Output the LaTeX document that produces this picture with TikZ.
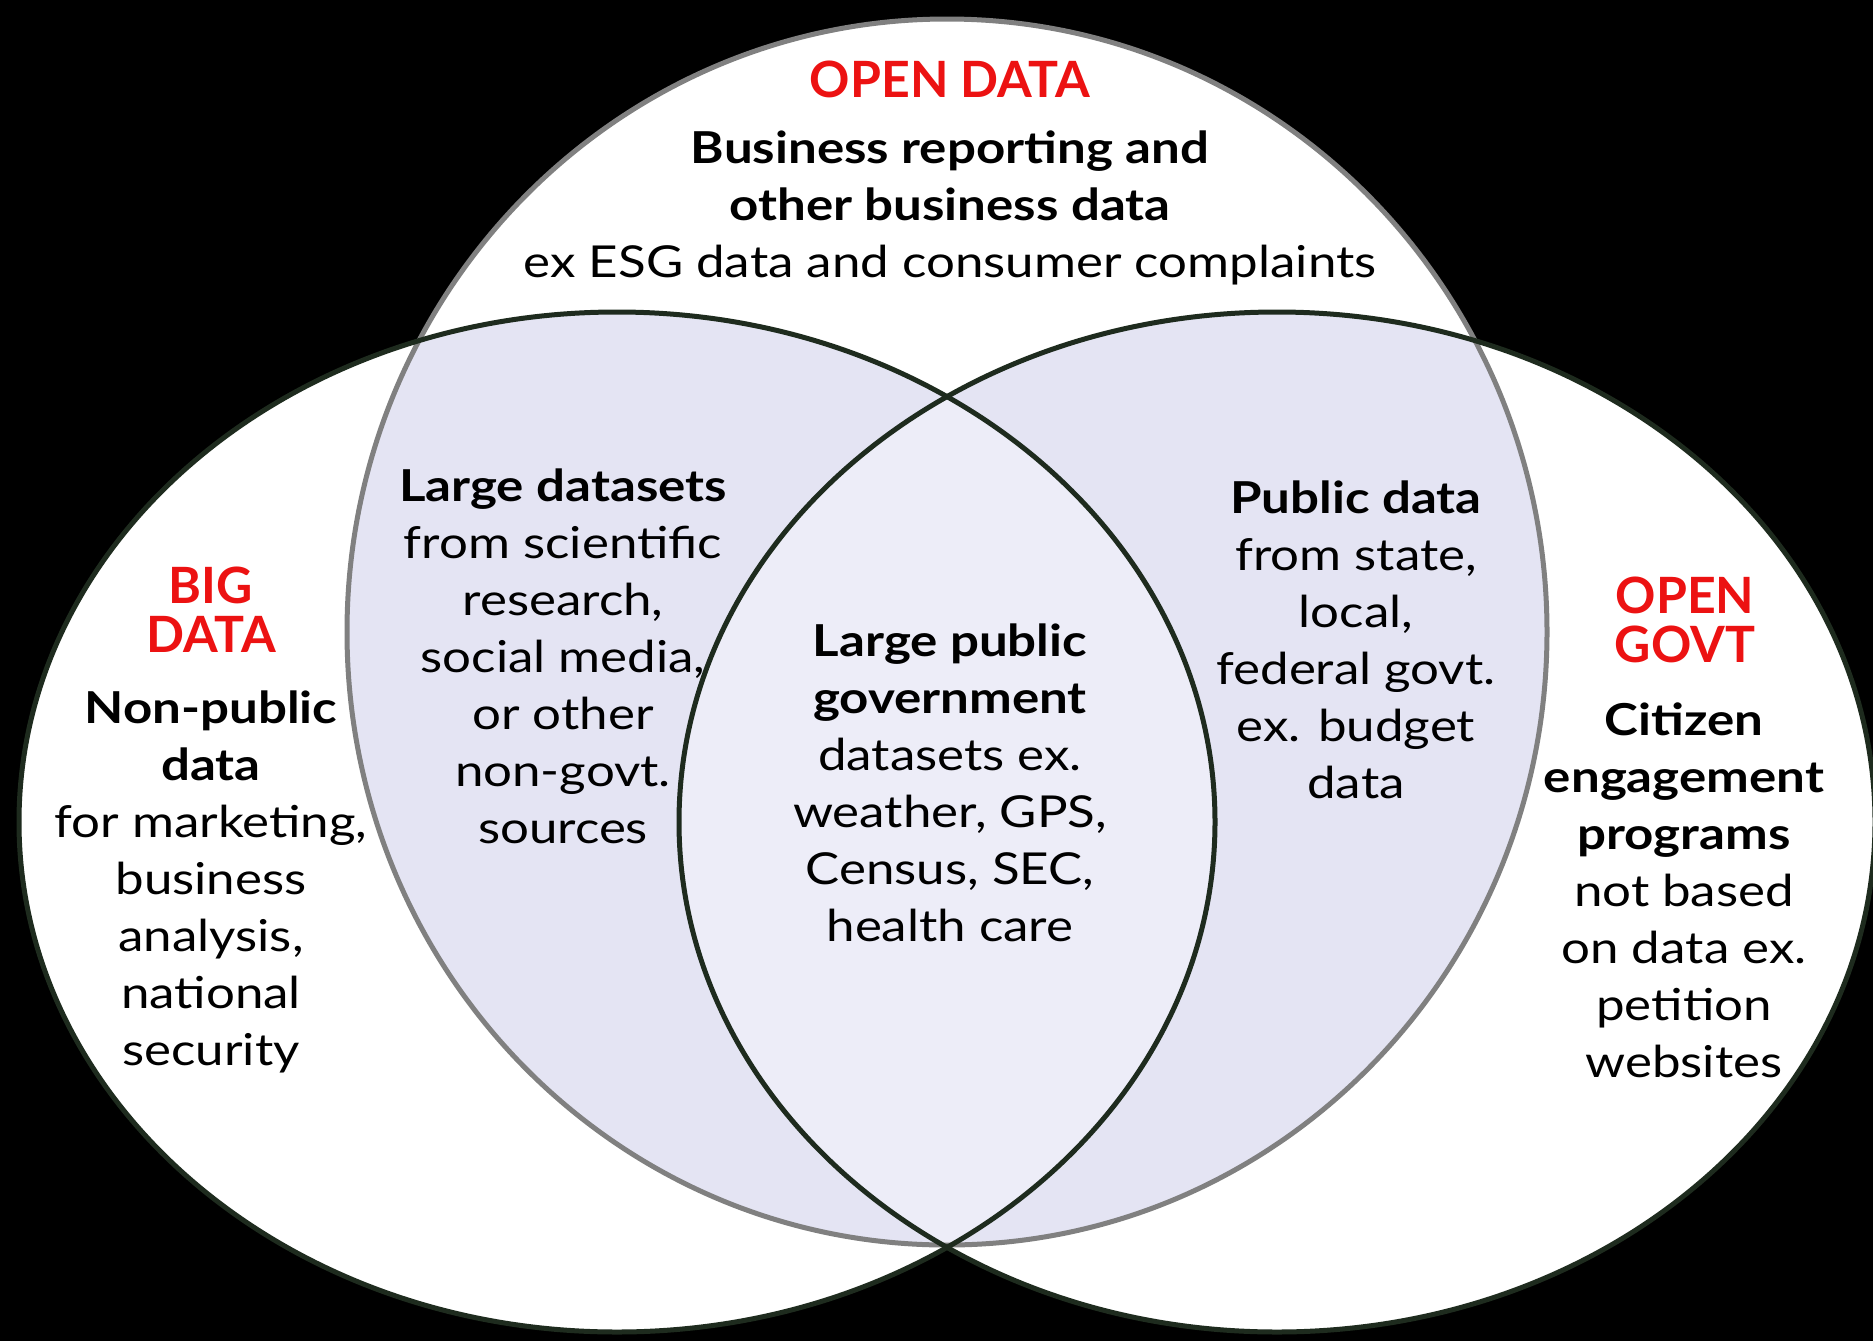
\documentclass[tikz,border=0pt]{standalone}
\usepackage{fontspec}
\setmainfont{Lato}
\newfontfamily\bodyfont{Lato}[FakeStretch=1.16]
\definecolor{lav}{RGB}{228,228,243}
\definecolor{lavc}{RGB}{237,237,248}
\definecolor{dk}{RGB}{30,43,30}
\definecolor{gr}{RGB}{128,128,128}
\definecolor{rd}{RGB}{236,18,18}
\begin{document}
\begin{tikzpicture}[x=1pt,y=-1pt,
  body/.style={align=center, inner sep=0pt, text=black, font=\bodyfont\fontsize{44}{57}\selectfont},
  ttl/.style={align=center, inner sep=0pt, text=rd, font=\bfseries\fontsize{50}{49}\selectfont},
  outl/.style={line width=5pt}
]
\fill[black] (0,0) rectangle (1873,1341);
\useasboundingbox (0,0) rectangle (1873,1341);
\def\TOPC{(947,632) ellipse [x radius=600pt, y radius=613pt]}
\def\LEFTE{(617,822) ellipse [x radius=598pt, y radius=510pt]}
\def\RIGHTE{(1277,822) ellipse [x radius=598pt, y radius=510pt]}
% white bases
\fill[white] \TOPC;
\fill[white] \LEFTE;
\fill[white] \RIGHTE;
% pairwise overlaps
\begin{scope}
  \clip \TOPC;
  \fill[lav] \LEFTE;
  \fill[lav] \RIGHTE;
\end{scope}
\begin{scope}
  \clip \LEFTE;
  \fill[lav] \RIGHTE;
\end{scope}
% triple overlap
\begin{scope}
  \clip \LEFTE;
  \clip \RIGHTE;
  \fill[lavc] \TOPC;
\end{scope}
% outlines
\draw[outl, gr] \TOPC;
\draw[outl, dk] \LEFTE;
\draw[outl, dk] \RIGHTE;

% texts
\node[ttl] (opendata) at (950,79) {OPEN DATA};
\node[body] (business) at (950,208) {\textbf{Business reporting and}\\\textbf{other business data}\\ex ESG data and consumer complaints};
\node[ttl] (bigdata) at (211,610) {BIG\\DATA};
\node[body] (nonpublic) at (211,882) {\textbf{Non-public}\\\textbf{data}\\for marketing,\\business\\analysis,\\national\\security};
\node[body] (largeds) at (563,656) {\textbf{Large datasets}\\from scientific\\research,\\social media,\\or other\\non-govt.\\sources};
\node[body] (largepub) at (950,783) {\textbf{Large public}\\\textbf{government}\\datasets ex.\\weather, GPS,\\Census, SEC,\\health care};
\node[body] (publicdata) at (1356,640) {\textbf{Public data}\\from state,\\local,\\federal govt.\\ex. budget\\data};
\node[ttl] (opengovt) at (1685,620) {OPEN\\GOVT};
\node[body] (citizen) at (1684,890) {\textbf{Citizen}\\\textbf{engagement}\\\textbf{programs}\\not based\\on data ex.\\petition\\websites};
\end{tikzpicture}
\end{document}
